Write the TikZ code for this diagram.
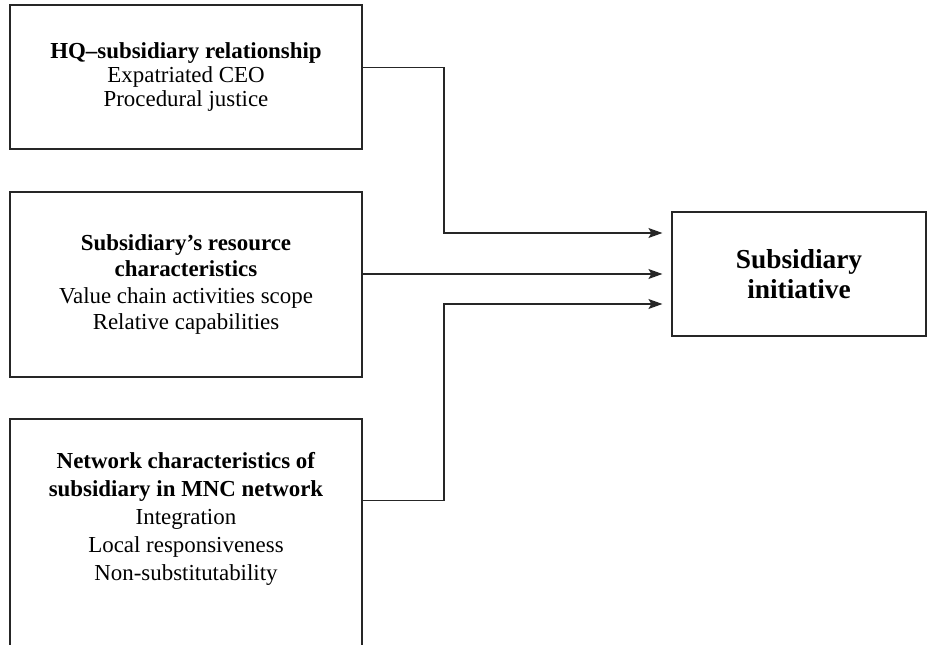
\documentclass[tikz,border=0pt]{standalone}
\usepackage{fontspec}
\setmainfont{Liberation Serif}
\usetikzlibrary{arrows.meta}
\begin{document}
\begin{tikzpicture}[x=1bp,y=-1bp,
  caja/.style={draw=black!85,line width=1.2bp,minimum width=352bp,inner sep=0pt,align=center,
    font=\fontsize{23}{24}\selectfont},
  texto/.style={align=center,inner sep=0pt,font=\fontsize{23}{28}\selectfont},
  flecha/.style={draw=black!85,line width=1.2bp,-{Stealth[length=14bp,width=10bp,inset=3bp]},shorten >=9bp}]
%
\useasboundingbox (0,0) rectangle (928,645);
\clip (0,0) rectangle (928,645);
%
% cajas de la izquierda
\node[caja,minimum height=144bp] (1) at (186,77) {\textbf{HQ--subsidiary relationship}\\Expatriated CEO\\Procedural justice};
\node[caja,minimum height=185bp,font=\fontsize{23}{26.5}\selectfont] (2) at (186,284.5) {\textbf{Subsidiary's resource}\\\textbf{characteristics}\\Value chain activities scope\\Relative capabilities};
\node[caja,minimum height=270bp] (3) at (186,554) {};
\node[texto] (3t) at (186,519) {\textbf{Network characteristics of}\\\textbf{subsidiary in MNC network}\\Integration\\Local responsiveness\\Non-substitutability};
%
% caja de la derecha
\node[caja,minimum width=254bp,minimum height=124bp,font=\bfseries\fontsize{27.5}{30}\selectfont] (4) at (799,274) {Subsidiary\\initiative};
%
% punto de quiebre
\coordinate (c) at (444,0);
\coordinate (s3) at ([yshift=-82bp]3.north east);
%
\draw[flecha] (1.3) -- (1.3 -| c) |- ([yshift=41bp]4.west);
\draw[flecha] (4.west -| 2.east) -- (4.west);
\draw[flecha] (s3) -- (s3 -| c) |- ([yshift=-30bp]4.west);
%
\end{tikzpicture}
\end{document}
